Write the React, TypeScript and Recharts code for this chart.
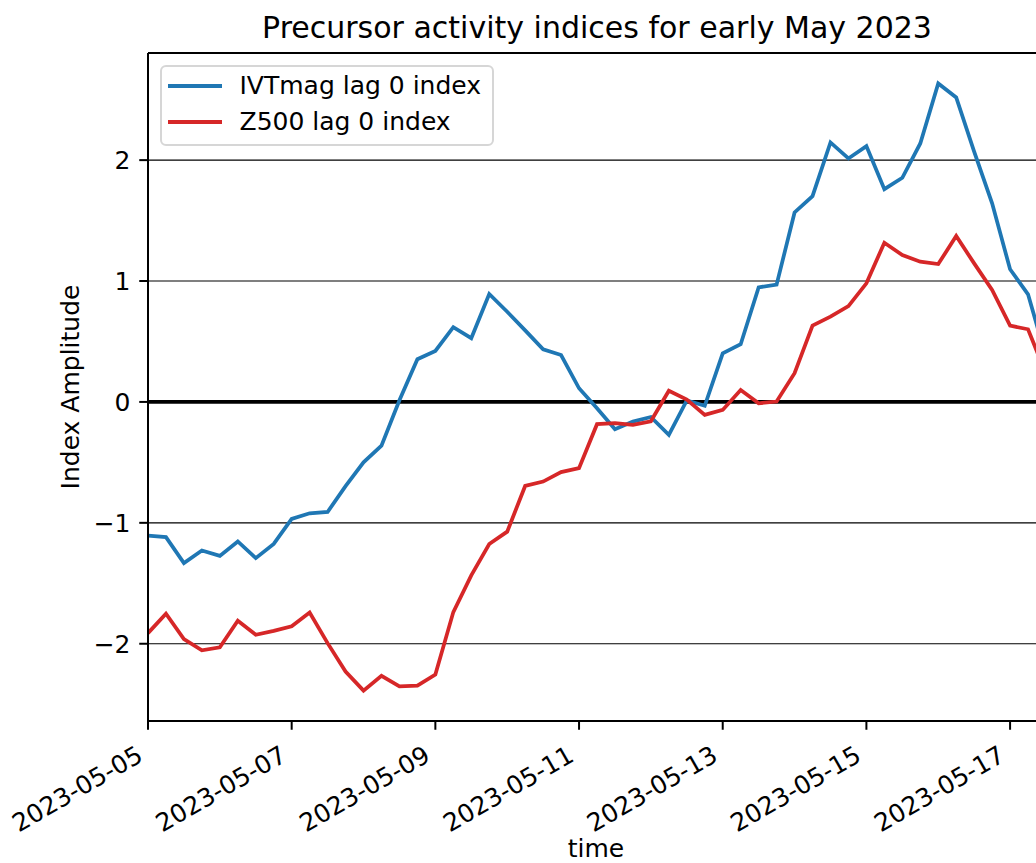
import React from 'react';
import { LineChart, Line, XAxis, YAxis, CartesianGrid, ReferenceLine } from 'recharts';

// 6-hourly samples starting 2023-05-05 00:00 UTC
const START_DATE = '2023-05-05';
const STEP_HOURS = 6;

const ivtIndex = [
    -1.105, -1.118, -1.333, -1.229, -1.273, -1.154, -1.292, -1.174, -0.968, -0.921,
    -0.91, -0.697, -0.499, -0.361, 0.014, 0.353, 0.422, 0.618, 0.527, 0.893,
    0.746, 0.592, 0.435, 0.388, 0.113, -0.052, -0.226, -0.163, -0.125, -0.273,
    0.012, -0.032, 0.402, 0.477, 0.948, 0.97, 1.567, 1.702, 2.146, 2.014,
    2.116, 1.76, 1.854, 2.138, 2.634, 2.518, 2.07, 1.643, 1.097, 0.89,
    0.37,
];

const z500Index = [
    -1.912, -1.752, -1.961, -2.055, -2.03, -1.81, -1.926, -1.893, -1.855, -1.742,
    -1.995, -2.23, -2.388, -2.265, -2.352, -2.347, -2.255, -1.738, -1.434, -1.175,
    -1.073, -0.695, -0.659, -0.58, -0.548, -0.184, -0.176, -0.19, -0.16, 0.092,
    0.02, -0.107, -0.066, 0.099, -0.011, 0.003, 0.237, 0.631, 0.705, 0.793,
    0.981, 1.317, 1.215, 1.16, 1.14, 1.372, 1.146, 0.926, 0.631, 0.601,
    0.23,
];

const seriesNames = ['IVTmag lag 0 index', 'Z500 lag 0 index'];
const seriesColors = ['#1f77b4', '#d62728'];

const xTickLabels = [
    '2023-05-05', '2023-05-07', '2023-05-09', '2023-05-11',
    '2023-05-13', '2023-05-15', '2023-05-17',
];
const yTicks = [-2, -1, 0, 1, 2];

const Y_MIN = -2.639;
const Y_MAX = 2.886;

const t0 = Date.parse(START_DATE + 'T00:00:00Z');
const data = ivtIndex.map((v, i) => ({
    t: t0 + i * STEP_HOURS * 3600 * 1000,
    ivt: v,
    z500: z500Index[i],
}));
const xTicks = xTickLabels.map((d) => Date.parse(d + 'T00:00:00Z'));

const FONT = '"DejaVu Sans", sans-serif';

const fmtDate = (ms: number) => new Date(ms).toISOString().slice(0, 10);
const fmtY = (v: number) => (v < 0 ? `\u2212${Math.abs(v)}` : `${v}`);

const DateTick = (props: any) => {
    const { x, payload } = props;
    const tx = x - 3.5;
    const ty = 760;
    return (
        <text
            x={tx}
            y={ty}
            textAnchor="end"
            fontSize={25}
            fontFamily={FONT}
            fill="#000"
            transform={`rotate(-30, ${tx}, ${ty})`}
        >
            {fmtDate(payload.value)}
        </text>
    );
};

export default function App() {
    return (
        <div
            style={{
                position: 'absolute',
                left: 0,
                top: 0,
                width: 1036,
                height: 863,
                overflow: 'hidden',
                background: '#fff',
                fontFamily: FONT,
            }}
        >
            <LineChart
                width={1100}
                height={863}
                data={data}
                margin={{ top: 53, right: 54, left: 0, bottom: 0 }}
            >
                <CartesianGrid
                    vertical={false}
                    stroke="#000"
                    strokeWidth={1.1}
                    strokeOpacity={1}
                />
                <XAxis
                    dataKey="t"
                    type="number"
                    domain={[data[0].t, data[data.length - 1].t]}
                    ticks={xTicks}
                    interval={0}
                    allowDataOverflow
                    height={142}
                    tickSize={8.75}
                    axisLine={{ stroke: '#000', strokeWidth: 2 }}
                    tickLine={{ stroke: '#000', strokeWidth: 2 }}
                    tick={<DateTick />}
                />
                <YAxis
                    type="number"
                    domain={[Y_MIN, Y_MAX]}
                    ticks={yTicks}
                    interval={0}
                    allowDataOverflow
                    width={148}
                    tickSize={8.75}
                    tickMargin={8.75}
                    axisLine={{ stroke: '#000', strokeWidth: 2 }}
                    tickLine={{ stroke: '#000', strokeWidth: 2 }}
                    tick={{ fill: '#000', fontSize: 25, fontFamily: FONT }}
                    tickFormatter={fmtY}
                />
                <ReferenceLine y={Y_MAX} stroke="#000" strokeWidth={2} />
                <ReferenceLine y={0} stroke="#000" strokeWidth={3.75} />
                <Line
                    dataKey="ivt"
                    type="linear"
                    stroke={seriesColors[0]}
                    strokeWidth={3.75}
                    dot={false}
                    isAnimationActive={false}
                />
                <Line
                    dataKey="z500"
                    type="linear"
                    stroke={seriesColors[1]}
                    strokeWidth={3.75}
                    dot={false}
                    isAnimationActive={false}
                />
            </LineChart>

            {/* title and axis labels */}
            <svg
                width={1036}
                height={863}
                style={{ position: 'absolute', left: 0, top: 0, pointerEvents: 'none' }}
            >
                <text x={597} y={37.5} textAnchor="middle" fontSize={30} fontFamily={FONT} fill="#000">
                    Precursor activity indices for early May 2023
                </text>
                <text
                    x={79}
                    y={387}
                    textAnchor="middle"
                    fontSize={25}
                    fontFamily={FONT}
                    fill="#000"
                    transform="rotate(-90, 79, 387)"
                >
                    Index Amplitude
                </text>
                <text x={596} y={857} textAnchor="middle" fontSize={25} fontFamily={FONT} fill="#000">
                    time
                </text>
            </svg>

            {/* legend box */}
            <div
                style={{
                    position: 'absolute',
                    left: 160,
                    top: 65,
                    width: 334,
                    height: 81,
                    boxSizing: 'border-box',
                    border: '2px solid #d6d6d6',
                    borderRadius: 6,
                    background: 'rgba(255,255,255,0.8)',
                }}
            >
                {seriesNames.map((name, i) => (
                    <div key={name}>
                        <div
                            style={{
                                position: 'absolute',
                                left: 6.3,
                                top: 18.8 + i * 36 - 1.9,
                                width: 53.4,
                                height: 3.75,
                                background: seriesColors[i],
                            }}
                        />
                        <div
                            style={{
                                position: 'absolute',
                                left: 77.5,
                                top: 18.8 + i * 36 - 15,
                                fontSize: 25,
                                lineHeight: '30px',
                                whiteSpace: 'nowrap',
                                color: '#000',
                            }}
                        >
                            {name}
                        </div>
                    </div>
                ))}
            </div>
        </div>
    );
}
